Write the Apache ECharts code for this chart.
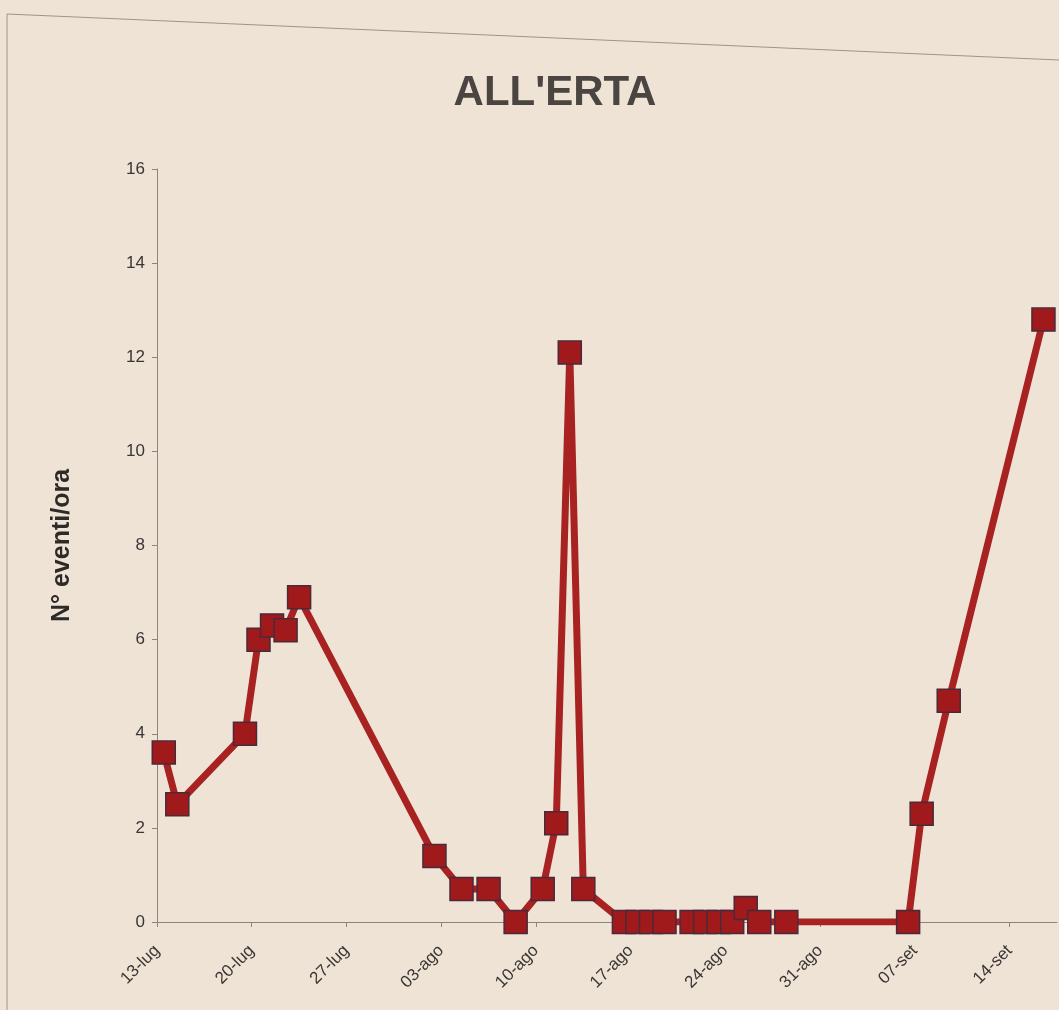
<!DOCTYPE html>
<html>
<head>
<meta charset="utf-8">
<script src="https://cdn.jsdelivr.net/npm/echarts@6/dist/echarts.min.js"></script>
<style>
html,body{margin:0;padding:0;background:#efe3d6;}
#chart{width:1059px;height:1010px;}
</style>
</head>
<body>
<div id="chart"></div>
<script>
// Data
var dates = ['13-lug','14-lug','19-lug','20-lug','21-lug','22-lug','23-lug','02-ago','04-ago','06-ago','08-ago','10-ago','11-ago','12-ago','13-ago','16-ago','17-ago','18-ago','19-ago','21-ago','22-ago','23-ago','24-ago','25-ago','26-ago','28-ago','06-set','07-set','09-set','16-set'];
var values = [3.6,2.5,4.0,6.0,6.3,6.2,6.9,1.4,0.7,0.7,0.0,0.7,2.1,12.1,0.7,0,0,0,0,0,0,0,0,0.3,0,0,0,2.3,4.7,12.8];
var tickLabels = ['13-lug','20-lug','27-lug','03-ago','10-ago','17-ago','24-ago','31-ago','07-set','14-set'];
var yTicks = [0,2,4,6,8,10,12,14,16];
var titleText = "ALL'ERTA";
var yName = 'N° eventi/ora';

var monthIdx = {lug:6, ago:7, set:8};
var YEAR = 2009;
var origin = Date.UTC(YEAR, 6, 13);
function dayOffset(s){
  var p = s.split('-');
  return (Date.UTC(YEAR, monthIdx[p[1]], parseInt(p[0],10)) - origin) / 86400000;
}
// Excel date axis: each point sits in the middle of its day
var seriesData = dates.map(function(d,i){ return [dayOffset(d) + 0.5, values[i]]; });
var tickMap = {};
tickLabels.forEach(function(t){ tickMap[dayOffset(t)] = t; });

var FONT = 'Liberation Sans, Arial, sans-serif';
var chart = echarts.init(document.getElementById('chart'));
chart.setOption({
  backgroundColor: '#efe3d6',
  animation: false,
  title: {
    text: titleText,
    left: 550, top: 67, textAlign: 'center',
    textStyle: {fontFamily: FONT, fontWeight: 'bold', fontSize: 42, color: '#4a4541'}
  },
  graphic: [{
    type: 'polyline',
    shape: {points: [[7,1010],[7,14],[1059,60]]},
    style: {stroke: '#9a9590', lineWidth: 1, fill: null},
    silent: true
  }],
  grid: {left: 157, right: 2, top: 169, bottom: 88},
  xAxis: {
    type: 'value',
    min: 0, max: 66.5, interval: 7,
    splitLine: {show: false},
    axisLine: {show: true, lineStyle: {color: '#8a8580', width: 1}},
    axisTick: {show: true, length: 5, lineStyle: {color: '#8a8580'}},
    axisLabel: {
      rotate: 45, margin: 26, fontSize: 17, color: '#3a3633',
      fontFamily: FONT,
      showMaxLabel: false,
      formatter: function(v){ return tickMap[v] !== undefined ? tickMap[v] : ''; }
    }
  },
  yAxis: {
    type: 'value',
    min: yTicks[0], max: yTicks[yTicks.length-1], interval: 2,
    name: yName,
    nameLocation: 'middle',
    nameGap: 82,
    nameTextStyle: {fontFamily: FONT, fontWeight: 'bold', fontSize: 25, color: '#2e2a28'},
    splitLine: {show: false},
    axisLine: {show: true, lineStyle: {color: '#8a8580', width: 1}},
    axisTick: {show: true, length: 5, lineStyle: {color: '#8a8580'}},
    axisLabel: {fontSize: 17, color: '#3a3633', margin: 12, fontFamily: FONT}
  },
  series: [{
    type: 'line',
    data: seriesData,
    symbol: 'rect',
    symbolSize: 23,
    lineStyle: {color: '#a82222', width: 7},
    itemStyle: {color: '#a01a1c', borderColor: '#4a2a3a', borderWidth: 1.5},
    z: 3
  }]
});
</script>
</body>
</html>
